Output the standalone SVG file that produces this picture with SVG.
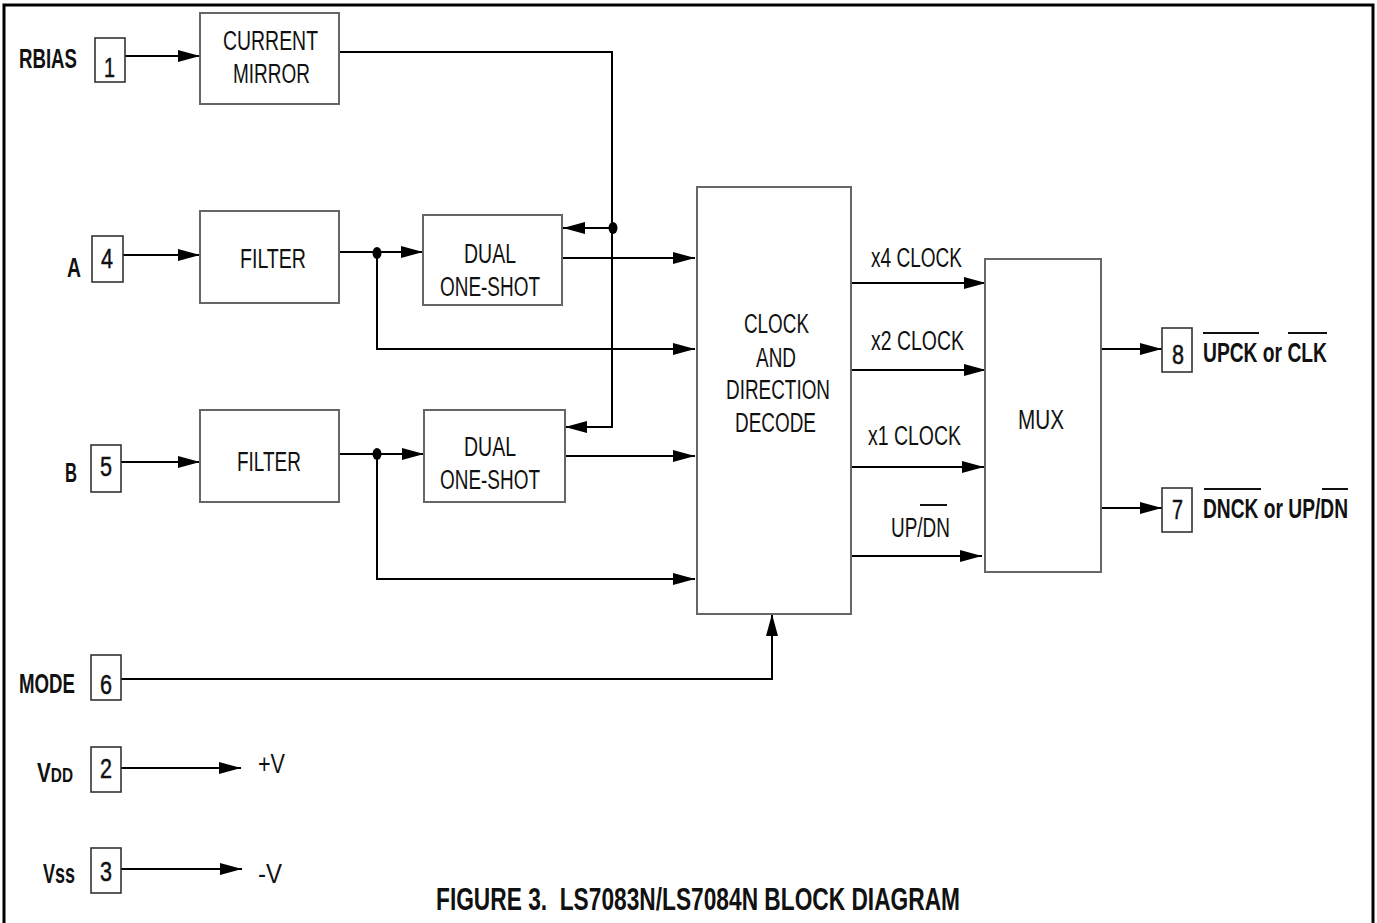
<svg xmlns="http://www.w3.org/2000/svg" width="1377" height="923" viewBox="0 0 1377 923">
<defs>
<marker id="arr" markerUnits="userSpaceOnUse" markerWidth="22" markerHeight="12" refX="22" refY="6" orient="auto">
<path d="M0,0 L22,6 L0,12 z" fill="#000"/>
</marker>
<style>
.t{font-family:"Liberation Sans Narrow","Liberation Sans",Arial,sans-serif;font-size:27px;fill:#111}
.b{font-weight:bold}
.d{font-size:28px;stroke:#111;stroke-width:0.5}
.blk{fill:#fff;stroke:#666;stroke-width:2}
.pin{fill:#fff;stroke:#333;stroke-width:1.6}
.w{fill:none;stroke:#000;stroke-width:2}
.a{marker-end:url(#arr)}
.ov{stroke:#111;stroke-width:2}
</style>
</defs>
<rect width="1377" height="923" fill="#fff"/>
<path d="M4,923 V5 H1373 V923" fill="none" stroke="#000" stroke-width="3"/>

<g id="connectors">
<path class="w a" d="M125,56 H200"/>
<path class="w a" d="M339,52 H612 V427 H565"/>
<path class="w a" d="M612,228 H563"/>
<path class="w a" d="M123,255 H200"/>
<path class="w a" d="M339,252 H423"/>
<path class="w a" d="M377,253 V349 H695"/>
<path class="w a" d="M562,258 H695"/>
<path class="w a" d="M121,462 H200"/>
<path class="w a" d="M339,454 H424"/>
<path class="w a" d="M377,454 V579 H695"/>
<path class="w a" d="M565,456 H695"/>
<path class="w a" d="M851,283 H986"/>
<path class="w a" d="M851,370 H986"/>
<path class="w a" d="M850,467 H984"/>
<path class="w a" d="M851,556 H982"/>
<path class="w a" d="M1101,349 H1162"/>
<path class="w a" d="M1101,508 H1162"/>
<path class="w a" d="M121,679 H772 V614"/>
<path class="w a" d="M121,768 H241"/>
<path class="w a" d="M121,869 H242"/>
<ellipse cx="377" cy="253" rx="4.5" ry="6"/>
<ellipse cx="377" cy="454" rx="4.5" ry="6"/>
<ellipse cx="613" cy="228" rx="4.5" ry="6"/>
</g>

<g id="pin1">
<rect class="pin" x="95" y="38" width="30" height="44"/>
<text class="t d" x="104" y="77" textLength="11" lengthAdjust="spacingAndGlyphs">1</text>
<text class="t b" x="19" y="68" textLength="58" lengthAdjust="spacingAndGlyphs">RBIAS</text>
</g>
<g id="current-mirror">
<rect class="blk" x="200" y="13" width="139" height="91"/>
<text class="t" x="223" y="50" textLength="95" lengthAdjust="spacingAndGlyphs">CURRENT</text>
<text class="t" x="233" y="83" textLength="77" lengthAdjust="spacingAndGlyphs">MIRROR</text>
</g>
<g id="pin4">
<rect class="pin" x="92" y="236" width="31" height="46"/>
<text class="t d" x="101" y="268" textLength="12" lengthAdjust="spacingAndGlyphs">4</text>
<text class="t b" x="67" y="277" textLength="14" lengthAdjust="spacingAndGlyphs">A</text>
</g>
<g id="filter-a">
<rect class="blk" x="200" y="211" width="139" height="92"/>
<text class="t" x="240" y="268" textLength="66" lengthAdjust="spacingAndGlyphs">FILTER</text>
</g>
<g id="oneshot-a">
<rect class="blk" x="423" y="215" width="139" height="90"/>
<text class="t" x="464" y="263" textLength="52" lengthAdjust="spacingAndGlyphs">DUAL</text>
<text class="t" x="440" y="296" textLength="100" lengthAdjust="spacingAndGlyphs">ONE-SHOT</text>
</g>
<g id="pin5">
<rect class="pin" x="91" y="445" width="30" height="47"/>
<text class="t d" x="100" y="476" textLength="12" lengthAdjust="spacingAndGlyphs">5</text>
<text class="t b" x="65" y="482" textLength="12" lengthAdjust="spacingAndGlyphs">B</text>
</g>
<g id="filter-b">
<rect class="blk" x="200" y="410" width="139" height="92"/>
<text class="t" x="237" y="471" textLength="64" lengthAdjust="spacingAndGlyphs">FILTER</text>
</g>
<g id="oneshot-b">
<rect class="blk" x="424" y="410" width="141" height="92"/>
<text class="t" x="464" y="456" textLength="52" lengthAdjust="spacingAndGlyphs">DUAL</text>
<text class="t" x="440" y="489" textLength="100" lengthAdjust="spacingAndGlyphs">ONE-SHOT</text>
</g>
<g id="decode">
<rect class="blk" x="697" y="187" width="154" height="427"/>
<text class="t" x="744" y="333" textLength="65" lengthAdjust="spacingAndGlyphs">CLOCK</text>
<text class="t" x="756" y="367" textLength="40" lengthAdjust="spacingAndGlyphs">AND</text>
<text class="t" x="726" y="399" textLength="104" lengthAdjust="spacingAndGlyphs">DIRECTION</text>
<text class="t" x="735" y="432" textLength="81" lengthAdjust="spacingAndGlyphs">DECODE</text>
</g>
<g id="signal-labels">
<text class="t" x="871" y="267" textLength="91" lengthAdjust="spacingAndGlyphs">x4 CLOCK</text>
<text class="t" x="871" y="350" textLength="93" lengthAdjust="spacingAndGlyphs">x2 CLOCK</text>
<text class="t" x="868" y="445" textLength="93" lengthAdjust="spacingAndGlyphs">x1 CLOCK</text>
<text class="t" x="891" y="537" textLength="59" lengthAdjust="spacingAndGlyphs">UP/DN</text>
<line class="ov" x1="920" y1="505" x2="947" y2="505"/>
</g>
<g id="mux">
<rect class="blk" x="985" y="259" width="116" height="313"/>
<text class="t" x="1018" y="429" textLength="46" lengthAdjust="spacingAndGlyphs">MUX</text>
</g>
<g id="pin8">
<rect class="pin" x="1162" y="328" width="30" height="44"/>
<text class="t d" x="1172" y="364" textLength="12" lengthAdjust="spacingAndGlyphs">8</text>
<text class="t b" x="1203" y="362" textLength="124" lengthAdjust="spacingAndGlyphs">UPCK or CLK</text>
<line class="ov" x1="1203" y1="333" x2="1259" y2="333"/>
<line class="ov" x1="1288" y1="333" x2="1327" y2="333"/>
</g>
<g id="pin7">
<rect class="pin" x="1162" y="488" width="30" height="44"/>
<text class="t d" x="1172" y="519" textLength="11" lengthAdjust="spacingAndGlyphs">7</text>
<text class="t b" x="1203" y="518" textLength="145" lengthAdjust="spacingAndGlyphs">DNCK or UP/DN</text>
<line class="ov" x1="1204" y1="489" x2="1261" y2="489"/>
<line class="ov" x1="1322" y1="489" x2="1348" y2="489"/>
</g>
<g id="pin6">
<rect class="pin" x="91" y="655" width="30" height="45"/>
<text class="t d" x="100" y="694" textLength="12" lengthAdjust="spacingAndGlyphs">6</text>
<text class="t b" x="19" y="693" textLength="56" lengthAdjust="spacingAndGlyphs">MODE</text>
</g>
<g id="pin2">
<rect class="pin" x="91" y="747" width="30" height="45"/>
<text class="t d" x="100" y="778" textLength="12" lengthAdjust="spacingAndGlyphs">2</text>
<text class="t b" x="37" y="782" textLength="36" lengthAdjust="spacingAndGlyphs">V<tspan style="font-size:20px">DD</tspan></text>
<text class="t" x="258" y="773" textLength="27" lengthAdjust="spacingAndGlyphs">+V</text>
</g>
<g id="pin3">
<rect class="pin" x="91" y="848" width="30" height="45"/>
<text class="t d" x="100" y="881" textLength="12" lengthAdjust="spacingAndGlyphs">3</text>
<text class="t b" x="43" y="883" textLength="32" lengthAdjust="spacingAndGlyphs">Vss</text>
<text class="t" x="258" y="883" textLength="24" lengthAdjust="spacingAndGlyphs">-V</text>
</g>
<g id="caption">
<text class="t b" x="436" y="910" style="font-size:32px" textLength="524" lengthAdjust="spacingAndGlyphs">FIGURE 3.&#160; LS7083N/LS7084N BLOCK DIAGRAM</text>
</g>
</svg>
